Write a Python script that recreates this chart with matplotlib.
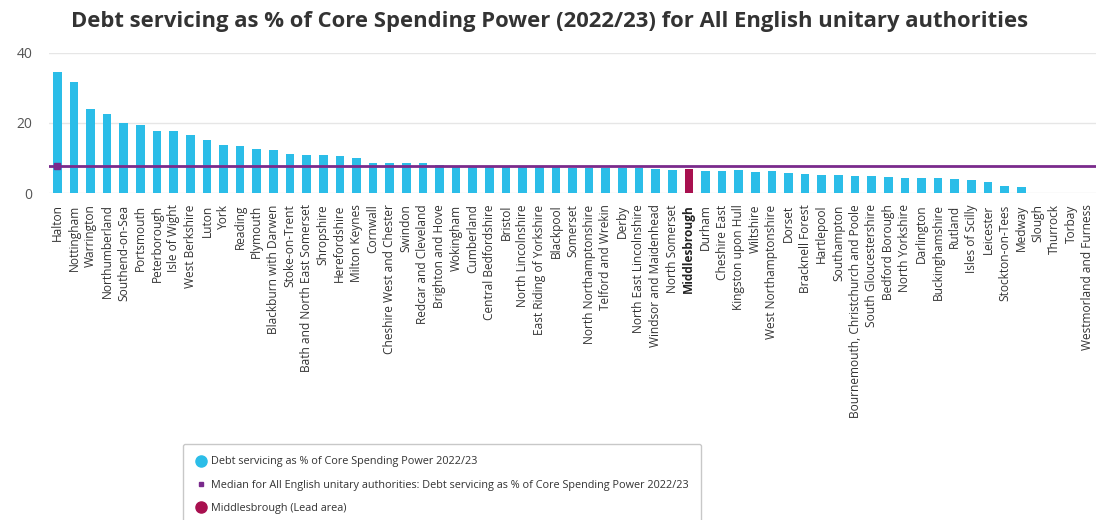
import numpy as np
import matplotlib
matplotlib.use("Agg")
import matplotlib.pyplot as plt
from matplotlib.lines import Line2D

plt.rcParams['font.family'] = ['Open Sans', 'DejaVu Sans']

# Data
areas = [
    "Halton", "Nottingham", "Warrington", "Northumberland", "Southend-on-Sea",
    "Portsmouth", "Peterborough", "Isle of Wight", "West Berkshire", "Luton",
    "York", "Reading", "Plymouth", "Blackburn with Darwen", "Stoke-on-Trent",
    "Bath and North East Somerset", "Shropshire", "Herefordshire", "Milton Keynes",
    "Cornwall", "Cheshire West and Chester", "Swindon", "Redcar and Cleveland",
    "Brighton and Hove", "Wokingham", "Cumberland", "Central Bedfordshire",
    "Bristol", "North Lincolnshire", "East Riding of Yorkshire", "Blackpool",
    "Somerset", "North Northamptonshire", "Telford and Wrekin", "Derby",
    "North East Lincolnshire", "Windsor and Maidenhead", "North Somerset",
    "Middlesbrough", "Durham", "Cheshire East", "Kingston upon Hull", "Wiltshire",
    "West Northamptonshire", "Dorset", "Bracknell Forest", "Hartlepool",
    "Southampton", "Bournemouth, Christchurch and Poole", "South Gloucestershire",
    "Bedford Borough", "North Yorkshire", "Darlington", "Buckinghamshire",
    "Rutland", "Isles of Scilly", "Leicester", "Stockton-on-Tees", "Medway",
    "Slough", "Thurrock", "Torbay", "Westmorland and Furness",
]
debt_pct = [
    34.6, 31.6, 24.0, 22.7, 20.1, 19.3, 17.7, 17.6, 16.6, 15.2,
    13.8, 13.5, 12.5, 12.2, 11.2, 10.9, 10.9, 10.6, 10.1,
    8.7, 8.7, 8.7, 8.7, 8.0, 7.9, 7.9, 7.9, 7.9, 7.9, 7.9, 7.8,
    7.3, 7.3, 7.3, 7.3, 7.3, 7.0, 6.7, 6.8, 6.4, 6.4, 6.6, 6.2,
    6.3, 5.9, 5.6, 5.3, 5.3, 5.0, 5.0, 4.7, 4.4, 4.3, 4.3, 4.2,
    3.8, 3.2, 2.2, 1.9, 0, 0, 0, 0,
]
median_pct = 7.9
lead_area = "Middlesbrough"

title = "Debt servicing as % of Core Spending Power (2022/23) for All English unitary authorities"

cyan = "#2bbde8"
lead_col = "#a8104f"
purple = "#7a2a8c"

fig = plt.figure(figsize=(10.99, 5.2), dpi=100)
ax = fig.add_axes([49 / 1099, 1 - 193.3 / 520, (1096 - 49) / 1099, (193.3 - 52.7) / 520])

x = np.arange(len(areas))
colors = [lead_col if a == lead_area else cyan for a in areas]
ax.bar(x, debt_pct, width=0.52, color=colors, zorder=2)
ax.axhline(median_pct, color=purple, lw=2, zorder=3)
ax.plot([0], [median_pct], marker="s", ms=5, color=purple, zorder=4)

ax.set_xlim(-0.5, len(areas) - 0.5)
ax.set_ylim(0, 40)
ax.set_yticks([0, 20, 40])
ax.grid(axis="y", color="#e6e6e6", lw=1, zorder=0)
for s in ax.spines.values():
    s.set_visible(False)
ax.tick_params(axis="y", length=0, pad=12, labelsize=10, labelcolor="#555555")
ax.tick_params(axis="x", length=0, pad=8)
ax.set_xticks(x)
ax.set_xticklabels(areas, rotation=90, fontsize=8.6, color="#333333", va="top", ha="center")
for lbl in ax.get_xticklabels():
    if lbl.get_text() == lead_area:
        lbl.set_fontweight("bold")
        lbl.set_color("#222222")

fig.text(0.5, 1 - 21 / 520, title, ha="center", va="center",
         fontsize=15.8, fontweight="bold", color="#333333")

handles = [
    Line2D([], [], ls="none", marker="o", ms=8, color=cyan),
    Line2D([], [], ls="none", marker="s", ms=3.5, color=purple),
    Line2D([], [], ls="none", marker="o", ms=8, color=lead_col),
]
labels = [
    "Debt servicing as % of Core Spending Power 2022/23",
    "Median for All English unitary authorities: Debt servicing as % of Core Spending Power 2022/23",
    "Middlesbrough (Lead area)",
]
leg = fig.legend(handles, labels, loc="upper left", bbox_to_anchor=(183 / 1099, 1 - 444 / 520),
                 fontsize=7.8, frameon=True, handletextpad=0.4, handlelength=1.0,
                 labelspacing=1.12, borderpad=1.15, borderaxespad=0, fancybox=True)
leg.get_frame().set_edgecolor("#bbbbbb")
leg.get_frame().set_linewidth(1)
for t in leg.get_texts():
    t.set_color("#333333")

fig.savefig("out.png", dpi=100)
